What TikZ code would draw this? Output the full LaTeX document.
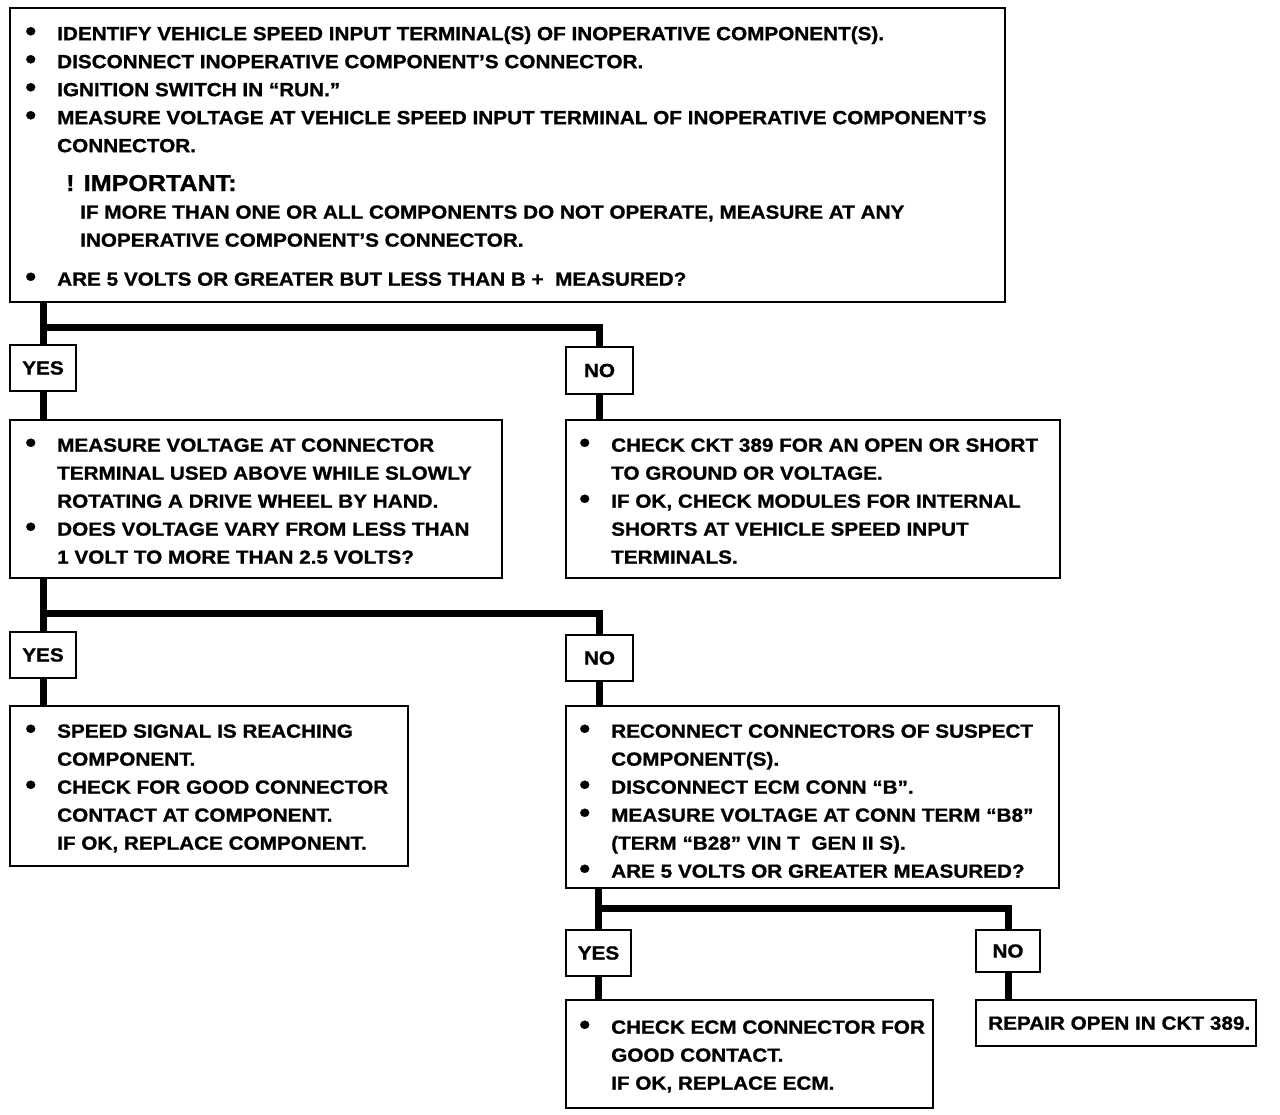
\documentclass[tikz,border=0pt]{standalone}
\usepackage{fontspec}
\usepackage{graphicx}
\newfontfamily\fb{Liberation Sans}[FakeStretch=1.09,FakeBold=1]
\newcommand\bu{\llap{\raisebox{-0.5pt}{\scalebox{1.5}{•}}\hspace{21pt}}}
\begin{document}
\begin{tikzpicture}[x=1pt,y=-1pt,
  box/.style={draw=black, line width=2.8pt, fill=white, inner sep=0pt, rectangle},
  lbl/.style={box, font=\fb\bfseries\fontsize{19}{28}\selectfont},
  txt/.style={anchor=north west, inner sep=0pt, align=left, font=\fb\bfseries\fontsize{19}{28}\selectfont},
  conn/.style={draw=black, line width=7pt, line join=miter}]
\useasboundingbox[fill=white] (0,0) rectangle (1280,1114);

\coordinate (j1) at (43,327);
\coordinate (j2) at (43,613);
\coordinate (j3) at (598.5,908);

% boxes
\node[box, minimum width=995pt, minimum height=294pt] (top) at (507.5,155) {};
\node[lbl, minimum width=66pt, minimum height=46pt] (yes1) at (43,368) {YES};
\node[lbl, minimum width=67pt, minimum height=47pt] (no1) at (599.5,370.5) {NO};
\node[box, minimum width=492pt, minimum height=158pt] (A) at (256,499) {};
\node[box, minimum width=494pt, minimum height=158pt] (B) at (813,499) {};
\node[lbl, minimum width=66pt, minimum height=46pt] (yes2) at (43,655) {YES};
\node[lbl, minimum width=67pt, minimum height=46pt] (no2) at (599.5,658) {NO};
\node[box, minimum width=398pt, minimum height=160pt] (C) at (209,786) {};
\node[box, minimum width=493pt, minimum height=182pt] (D) at (812.5,797) {};
\node[lbl, minimum width=65pt, minimum height=46pt] (yes3) at (598.5,953) {YES};
\node[lbl, minimum width=64pt, minimum height=42pt] (no3) at (1008,951) {NO};
\node[box, minimum width=367pt, minimum height=108pt] (E) at (749.5,1054) {};
\node[box, minimum width=280pt, minimum height=46pt] (F) at (1116,1023) {};

% connectors
\draw[conn] (top.south -| yes1.north) -- (yes1.north);
\draw[conn] (j1) -| (no1.north);
\draw[conn] (yes1.south) -- (yes1.south |- A.north);
\draw[conn] (no1.south) -- (no1.south |- B.north);
\draw[conn] (A.south -| yes2.north) -- (yes2.north);
\draw[conn] (j2) -| (no2.north);
\draw[conn] (yes2.south) -- (yes2.south |- C.north);
\draw[conn] (no2.south) -- (no2.south |- D.north);
\draw[conn] (D.south -| yes3.north) -- (yes3.north);
\draw[conn] (j3) -| (no3.north);
\draw[conn] (yes3.south) -- (yes3.south |- E.north);
\draw[conn] (no3.south) -- (no3.south |- F.north);

% texts
\node[txt] (t1) at (57,26.2) {\bu IDENTIFY VEHICLE SPEED INPUT TERMINAL(S) OF INOPERATIVE COMPONENT(S).\\
\bu DISCONNECT INOPERATIVE COMPONENT’S CONNECTOR.\\
\bu IGNITION SWITCH IN “RUN.”\\
\bu MEASURE VOLTAGE AT VEHICLE SPEED INPUT TERMINAL OF INOPERATIVE COMPONENT’S\\
CONNECTOR.};
\node[anchor=base west, inner sep=0pt, font=\fb\bfseries\fontsize{23}{28}\selectfont] (imp) at (66,191) {! IMPORTANT:};
\node[txt] (t2) at (80,205.2) {IF MORE THAN ONE OR ALL COMPONENTS DO NOT OPERATE, MEASURE AT ANY\\
INOPERATIVE COMPONENT’S CONNECTOR.};
\node[txt] (t3) at (57,272.2) {\bu ARE 5 VOLTS OR GREATER BUT LESS THAN B +~ MEASURED?};

\node[txt] (tA) at (57,438.2) {\bu MEASURE VOLTAGE AT CONNECTOR\\
TERMINAL USED ABOVE WHILE SLOWLY\\
ROTATING A DRIVE WHEEL BY HAND.\\
\bu DOES VOLTAGE VARY FROM LESS THAN\\
1 VOLT TO MORE THAN 2.5 VOLTS?};
\node[txt] (tB) at (611,438.2) {\bu CHECK CKT 389 FOR AN OPEN OR SHORT\\
TO GROUND OR VOLTAGE.\\
\bu IF OK, CHECK MODULES FOR INTERNAL\\
SHORTS AT VEHICLE SPEED INPUT\\
TERMINALS.};
\node[txt] (tC) at (57,724.2) {\bu SPEED SIGNAL IS REACHING\\
COMPONENT.\\
\bu CHECK FOR GOOD CONNECTOR\\
CONTACT AT COMPONENT.\\
IF OK, REPLACE COMPONENT.};
\node[txt] (tD) at (611,724.2) {\bu RECONNECT CONNECTORS OF SUSPECT\\
COMPONENT(S).\\
\bu DISCONNECT ECM CONN “B”.\\
\bu MEASURE VOLTAGE AT CONN TERM “B8”\\
(TERM “B28” VIN T~ GEN II S).\\
\bu ARE 5 VOLTS OR GREATER MEASURED?};
\node[txt] (tE) at (611,1020.2) {\bu CHECK ECM CONNECTOR FOR\\
GOOD CONTACT.\\
IF OK, REPLACE ECM.};
\node[txt] (tF) at (988,1016.2) {REPAIR OPEN IN CKT 389.};
\end{tikzpicture}
\end{document}
